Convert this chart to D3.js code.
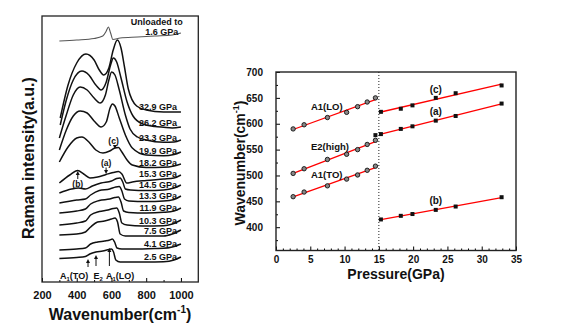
<!DOCTYPE html>
<html>
<head>
<meta charset="utf-8">
<script src="https://cdn.jsdelivr.net/npm/d3@7/dist/d3.min.js"></script>
<style>
  body { margin: 0; background: #fff; }
  text { font-family: "Liberation Sans", Arial, sans-serif; font-weight: bold; fill: #111; }
</style>
</head>
<body>
<script>
// ---- Raman spectra (wavenumber cm-1, stacked intensity a.u.) ----
const spectrumLabels = ["2.5 GPa", "4.1 GPa", "7.5 GPa", "10.3 GPa", "11.9 GPa", "13.3 GPa",
  "14.5 GPa", "15.3 GPa", "18.2 GPa", "19.9 GPa", "23.3 GPa", "26.2 GPa", "32.9 GPa"];

const spectra = [
  [[300,23.5],[400,24.5],[450,25.5],[475,28],[510,30],[550,31],[585,32.5],[600,33],[612,30],[625,22],[650,20],[720,20],[800,20],[900,20.3],[960,22],[1000,25]],
  [[300,32],[400,33],[450,34],[480,38],[520,40],[560,41],[590,42],[605,43],[618,40],[632,34],[660,33],[750,33],[850,33.5],[900,33.7],[950,35],[1000,38]],
  [[300,47],[400,48],[450,50],[480,55],[520,60],[560,61],[600,63],[620,64],[635,60],[650,48],[680,46],[780,46],[880,46],[900,46],[950,48],[1000,52]],
  [[300,57],[400,59],[450,61],[480,67],[530,70.5],[580,72],[610,73.5],[630,74],[645,69],[660,59],[690,57],[780,56],[900,56.3],[950,58],[1000,62]],
  [[300,69],[400,71],[450,73],[480,78],[530,81.5],[590,83],[620,84.5],[640,85],[655,80],[670,71],[700,69.5],[800,69],[900,69.7],[960,71],[1000,74]],
  [[300,79],[400,82],[450,83],[480,87],[530,91.5],[590,93],[625,95],[645,95.5],[660,91],[675,83],[700,81],[800,80.5],[900,81],[960,82.5],[1000,86]],
  [[300,89],[370,93],[410,94],[450,93],[490,96],[540,99],[600,101],[630,103.5],[650,104],[665,100],[680,93],[710,92],[800,91.5],[900,92],[960,94],[1000,97]],
  [[300,99],[360,107],[405,111.5],[440,108],[476,104],[520,105],[569,107.5],[610,109.5],[640,110.5],[660,108],[688,99],[720,100],[800,101.5],[900,103],[960,104],[1000,107]],
  [[300,120],[350,135],[400,144],[430,145],[470,140],[510,132],[551,129],[590,131],[620,134],[640,134.5],[660,130],[690,122],[720,117],[800,114.5],[900,114.7],[960,116],[1000,118]],
  [[300,132],[340,152],[380,166],[420,171],[460,169],[500,161],[540,155],[570,160],[592,174],[605,178],[620,176],[645,164],[680,147],[720,134],[800,127],[900,126.3],[960,127.5],[1000,130]],
  [[300,144],[340,167],[380,187],[420,195],[460,192],[500,184],[535,179],[565,187],[585,202],[601,210],[620,207],[645,192],[680,167],[707,153],[750,145],[800,142],[900,139.7],[960,140],[1000,142]],
  [[305,157],[340,182],[380,202],[430,211],[470,207],[510,197],[540,192],[570,200],[595,217],[611,224],[630,220],[655,204],[690,180],[724,166],[780,158],[850,155.5],[900,154.7],[950,154],[1000,155]],
  [[305,164],[350,197],[400,219],[453,228],[500,222],[530,212],[555,207],[585,214],[610,232],[634,242],[655,234],[675,215],[697,193],[745,176],[800,172],[900,170],[1000,170]]
];

const unloaded = [[300,241],[400,242],[500,243.5],[550,246],[570,251],[582,255],[595,249],[608,242.5],[650,244],[750,245],[850,246],[950,247],[1000,249]];

// ---- Mode frequencies vs pressure ----
const lowP = [2.5, 4.1, 7.5, 10.3, 11.9, 13.3, 14.5];
const highP = [15.3, 18.2, 19.9, 23.3, 26.2, 32.9];
const a1LO = [590, 598, 612, 622, 633, 642, 650];
const e2High = [504, 513, 531, 541, 550, 560, 568];
const a1TO = [459, 468, 480, 493, 501, 510, 518];
const modeC = [623, 629, 635.5, 650, 659, 674];
const modeA = [580, 590, 595, 606, 615, 639];
const modeB = [415, 422, 425.5, 433.5, 440, 458];
const modeAOnset = [[14.5, 578]];

const width = 566, height = 327;
const svg = d3.select("body").append("svg")
  .attr("width", width).attr("height", height);
svg.append("rect").attr("width", width).attr("height", height).attr("fill", "#fff");

// ================= left panel: spectra =================
const xL = d3.scaleLinear().domain([200, 1100]).range([42, 198.3]);
const yL = d3.scaleLinear().domain([0, 266]).range([282, 16]);

const lineL = d3.line().x(d => xL(d[0])).y(d => yL(d[1])).curve(d3.curveMonotoneX);

const left = svg.append("g");

left.selectAll("path.spec")
  .data(spectra)
  .enter().append("path")
  .attr("class", "spec")
  .attr("d", lineL)
  .attr("fill", "none")
  .attr("stroke", "#111")
  .attr("stroke-width", 1.5);

left.append("path")
  .attr("d", lineL(unloaded))
  .attr("fill", "none")
  .attr("stroke", "#555")
  .attr("stroke-width", 1.1);

// pressure labels sit just above the flat tail of each trace
left.selectAll("text.plab")
  .data(spectra)
  .enter().append("text")
  .attr("class", "plab")
  .attr("x", 177)
  .attr("y", d => yL(d.find(p => p[0] === 900)[1]) - 1.7)
  .attr("text-anchor", "end")
  .attr("font-size", 9)
  .text((d, i) => spectrumLabels[i]);

left.append("text").attr("x", xL(1010)).attr("y", 24.5)
  .attr("text-anchor", "end").attr("font-size", 9).attr("fill", "#444").text("Unloaded to");
left.append("text").attr("x", xL(985)).attr("y", 34.5)
  .attr("text-anchor", "end").attr("font-size", 9).attr("fill", "#444").text("1.6 GPa");

// arrow markers pointing at features
function arrow(g, w, u0, u1) {
  const x = xL(w), y0 = yL(u0), y1 = yL(u1);
  const dir = y1 > y0 ? 1 : -1;
  g.append("line").attr("x1", x).attr("x2", x).attr("y1", y0).attr("y2", y1 - dir * 3)
    .attr("stroke", "#111").attr("stroke-width", 1);
  g.append("path")
    .attr("d", `M${x - 2},${y1 - dir * 4}L${x + 2},${y1 - dir * 4}L${x},${y1}Z`)
    .attr("fill", "#111");
}

left.append("text").attr("x", xL(612)).attr("y", yL(138.5)).attr("text-anchor", "middle")
  .attr("font-size", 8.5).attr("font-weight", "normal").text("(c)");
arrow(left, 620, 137, 133);
left.append("text").attr("x", xL(569)).attr("y", yL(116)).attr("text-anchor", "middle")
  .attr("font-size", 8.5).attr("font-weight", "normal").text("(a)");
arrow(left, 569, 114.5, 108);
left.append("text").attr("x", xL(406)).attr("y", yL(95)).attr("text-anchor", "middle")
  .attr("font-size", 8.5).attr("font-weight", "normal").text("(b)");
arrow(left, 406, 103, 111);

arrow(left, 465, 15, 23);
arrow(left, 511, 16, 27);
arrow(left, 588, 16, 34);

function modeLabel(g, x, y, base, sub, tail, size) {
  const t = g.append("text").attr("x", x).attr("y", y).attr("font-size", size);
  t.append("tspan").text(base);
  t.append("tspan").attr("font-size", size * 0.65).attr("dy", 2).text(sub);
  t.append("tspan").attr("dy", -2).text(tail);
  return t;
}
modeLabel(left, xL(304), yL(3), "A", "1", "(TO)", 9);
modeLabel(left, xL(497), yL(3), "E", "2", "", 9);
modeLabel(left, xL(569), yL(3), "A", "1", "(LO)", 9);

// bottom axis with inward ticks
const axL = left.append("g").attr("transform", `translate(0,${yL(0)})`)
  .call(d3.axisBottom(xL).tickValues([200, 400, 600, 800, 1000]).tickFormat(d3.format("d"))
    .tickSize(-4).tickPadding(9));
axL.attr("font-size", 11).attr("font-family", null);
axL.select(".domain").remove();
left.append("g").attr("transform", `translate(0,${yL(0)})`)
  .call(d3.axisBottom(xL).tickValues([300, 500, 700, 900]).tickSize(-2).tickFormat(""))
  .select(".domain").remove();

left.append("rect")
  .attr("x", xL(200)).attr("y", yL(266))
  .attr("width", xL(1100) - xL(200)).attr("height", yL(0) - yL(266))
  .attr("fill", "none").attr("stroke", "#222").attr("stroke-width", 1.3);

const xtL = left.append("text").attr("x", 120).attr("y", 320)
  .attr("text-anchor", "middle").attr("font-size", 16);
xtL.append("tspan").text("Wavenumber(cm");
xtL.append("tspan").attr("font-size", 10).attr("dy", -7).text("-1");
xtL.append("tspan").attr("dy", 7).text(")");

left.append("text")
  .attr("transform", "translate(34,158) rotate(-90)")
  .attr("text-anchor", "middle").attr("font-size", 16)
  .text("Raman intensity(a.u.)");

// ================= right panel: mode shifts =================
const xR = d3.scaleLinear().domain([0, 35]).range([276, 516]);
const yR = d3.scaleLinear().domain([355, 700]).range([250.5, 72]);
const right = svg.append("g");

function fit(xs, ys) {
  const mx = d3.mean(xs), my = d3.mean(ys);
  const b = d3.sum(xs, (x, i) => (x - mx) * (ys[i] - my)) / d3.sum(xs, x => (x - mx) * (x - mx));
  return x => my + b * (x - mx);
}

const lowSeries = [a1LO, e2High, a1TO];
const highSeries = [modeC, modeA, modeB];

function fitLine(xs, ys) {
  const f = fit(xs, ys);
  const x0 = d3.min(xs), x1 = d3.max(xs);
  right.append("line")
    .attr("x1", xR(x0)).attr("y1", yR(f(x0)))
    .attr("x2", xR(x1)).attr("y2", yR(f(x1)))
    .attr("stroke", "#f00").attr("stroke-width", 1.3);
}
lowSeries.forEach(s => fitLine(lowP, s));
highSeries.forEach(s => fitLine(highP, s));

// phase boundary
right.append("line")
  .attr("x1", xR(15)).attr("x2", xR(15))
  .attr("y1", yR(700)).attr("y2", yR(355))
  .attr("stroke", "#222").attr("stroke-width", 1)
  .attr("stroke-dasharray", "1,2");

lowSeries.forEach(s => {
  right.selectAll(null)
    .data(s)
    .enter().append("circle")
    .attr("cx", (d, i) => xR(lowP[i]))
    .attr("cy", d => yR(d))
    .attr("r", 2.2)
    .attr("fill", "#888")
    .attr("stroke", "#111")
    .attr("stroke-width", 0.9);
});

const sq = 4;
highSeries.forEach(s => {
  right.selectAll(null)
    .data(s)
    .enter().append("rect")
    .attr("x", (d, i) => xR(highP[i]) - sq / 2)
    .attr("y", d => yR(d) - sq / 2)
    .attr("width", sq).attr("height", sq)
    .attr("fill", "#111");
});
right.selectAll(null)
  .data(modeAOnset)
  .enter().append("rect")
  .attr("x", d => xR(d[0]) - sq / 2)
  .attr("y", d => yR(d[1]) - sq / 2)
  .attr("width", sq).attr("height", sq)
  .attr("fill", "#111");

// mode names
const modeFont = 9.5;
right.append("text").attr("x", xR(5.1)).attr("y", yR(627)).attr("font-size", modeFont).text("A1(LO)");
right.append("text").attr("x", xR(5.1)).attr("y", yR(550)).attr("font-size", modeFont).text("E2(high)");
right.append("text").attr("x", xR(5.1)).attr("y", yR(496)).attr("font-size", modeFont).text("A1(TO)");
right.append("text").attr("x", xR(23.3)).attr("y", yR(659)).attr("text-anchor", "middle").attr("font-size", 10).attr("font-weight", "normal").text("(c)");
right.append("text").attr("x", xR(23.3)).attr("y", yR(617)).attr("text-anchor", "middle").attr("font-size", 10).attr("font-weight", "normal").text("(a)");
right.append("text").attr("x", xR(23.3)).attr("y", yR(444)).attr("text-anchor", "middle").attr("font-size", 10).attr("font-weight", "normal").text("(b)");

// axes, ticks pointing inward
const axRx = right.append("g").attr("transform", `translate(0,${yR(355)})`)
  .call(d3.axisBottom(xR).tickValues(d3.range(0, 36, 5)).tickSize(-4).tickPadding(5));
axRx.attr("font-size", 10).attr("font-family", null);
axRx.select(".domain").remove();
right.append("g").attr("transform", `translate(0,${yR(355)})`)
  .call(d3.axisBottom(xR).tickValues(d3.range(1, 35, 1).filter(v => v % 5)).tickSize(-2).tickFormat(""))
  .select(".domain").remove();

const axRy = right.append("g").attr("transform", `translate(${xR(0)},0)`)
  .call(d3.axisLeft(yR).tickValues(d3.range(400, 701, 50)).tickSize(-4).tickPadding(13));
axRy.attr("font-size", 10).attr("font-family", null);
axRy.select(".domain").remove();
right.append("g").attr("transform", `translate(${xR(0)},0)`)
  .call(d3.axisLeft(yR).tickValues(d3.range(375, 700, 50)).tickSize(-2).tickFormat(""))
  .select(".domain").remove();

right.append("rect")
  .attr("x", xR(0)).attr("y", yR(700))
  .attr("width", xR(35) - xR(0)).attr("height", yR(355) - yR(700))
  .attr("fill", "none").attr("stroke", "#222").attr("stroke-width", 1.4);

right.append("text").attr("x", 396).attr("y", 279)
  .attr("text-anchor", "middle").attr("font-size", 14).text("Pressure(GPa)");

const ytR = right.append("text")
  .attr("transform", "translate(245,163) rotate(-90)")
  .attr("text-anchor", "middle").attr("font-size", 14);
ytR.append("tspan").text("Wavenumber(cm");
ytR.append("tspan").attr("font-size", 9).attr("dy", -6).text("-1");
ytR.append("tspan").attr("dy", 6).text(")");
</script>
</body>
</html>
